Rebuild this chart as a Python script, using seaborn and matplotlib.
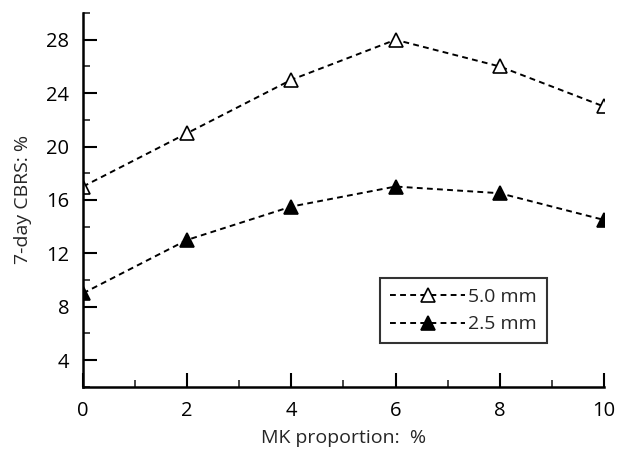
import matplotlib
matplotlib.use("Agg")
import matplotlib.pyplot as plt
import seaborn as sns
import pandas as pd
from matplotlib.ticker import MultipleLocator

mk = [0, 2, 4, 6, 8, 10]
cbrs_50 = [17, 21, 25, 28, 26, 23]
cbrs_25 = [9, 13, 15.5, 17, 16.5, 14.5]
labels = ["5.0 mm", "2.5 mm"]

df = pd.DataFrame({
    "MK": mk * 2,
    "CBRS": cbrs_50 + cbrs_25,
    "size": [labels[0]] * len(mk) + [labels[1]] * len(mk),
})

sns.set_theme(style="ticks")
plt.rcParams['font.family'] = ['Open Sans', 'DejaVu Sans']

fig = plt.figure(figsize=(6.31, 4.51), dpi=100)
ax = fig.add_axes([0.1315, 0.1426, 0.8255, 0.8284])

for lab, fc in zip(labels, ["white", "black"]):
    sub = df[df["size"] == lab]
    sns.lineplot(data=sub, x="MK", y="CBRS", ax=ax, color="black",
                 linestyle=(0, (3, 2.2)), linewidth=1.4, marker="^",
                 markersize=10, markerfacecolor=fc, markeredgecolor="black",
                 markeredgewidth=1.2, label=lab)

ax.set_xlim(0, 10)
ax.set_ylim(2, 30)
ax.xaxis.set_major_locator(MultipleLocator(2))
ax.xaxis.set_minor_locator(MultipleLocator(1))
ax.yaxis.set_minor_locator(MultipleLocator(2))
ax.set_yticks([4, 8, 12, 16, 20, 24, 28])
ax.tick_params(which="major", direction="in", length=10, width=1.5, labelsize=14.5, colors="black", pad=10)
ax.tick_params(which="minor", direction="in", length=5, width=1.2)
for s in ["top", "right"]:
    ax.spines[s].set_visible(False)
for s in ["left", "bottom"]:
    ax.spines[s].set_linewidth(1.8)
    ax.spines[s].set_color("black")
ax.set_xlabel("MK proportion:  %", fontsize=14, labelpad=6)
ax.set_ylabel("7-day CBRS: %", fontsize=14, labelpad=10)

leg = ax.legend(loc="upper left", bbox_to_anchor=(0.57, 0.291), borderaxespad=0,
                frameon=True, fancybox=False, edgecolor="black", fontsize=14,
                handlelength=3.9, handletextpad=0.15, borderpad=0.5,
                labelspacing=0.5)
leg.get_frame().set_linewidth(1.5)

fig.savefig("out.png", dpi=100)
